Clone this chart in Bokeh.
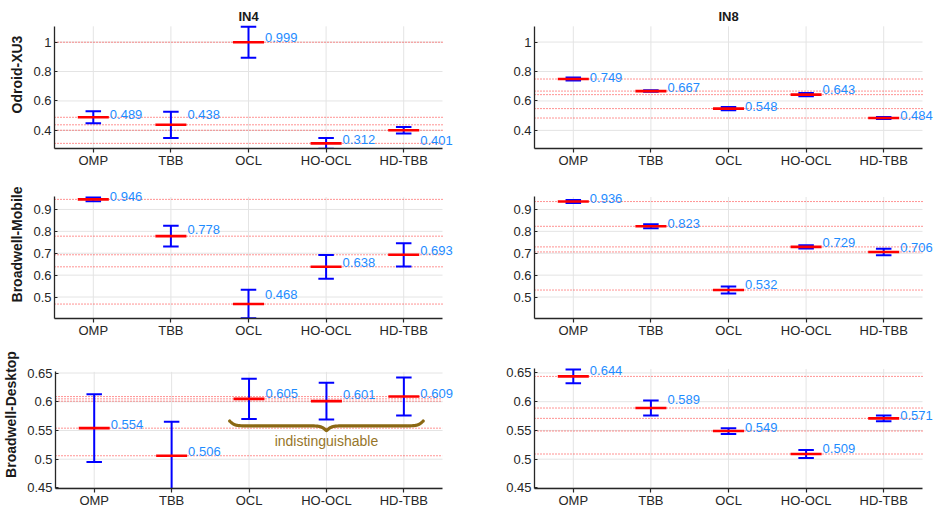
import numpy as np
from bokeh.plotting import figure
from bokeh.models import ColumnDataSource, LabelSet, Label, FixedTicker, Range1d
from bokeh.layouts import column, row
from bokeh.core.properties import value
from bokeh.embed import file_html
from bokeh.resources import INLINE

# ---------------- data ----------------
categories = ["OMP", "TBB", "OCL", "HO-OCL", "HD-TBB"]
column_titles = ["IN4", "IN8"]
row_labels = ["Odroid-XU3", "Broadwell-Mobile", "Broadwell-Desktop"]

odroid_in4_mean = [0.489, 0.438, 0.999, 0.312, 0.401]
odroid_in4_err = [0.041, 0.089, 0.105, 0.036, 0.022]
odroid_in8_mean = [0.749, 0.667, 0.548, 0.643, 0.484]
odroid_in8_err = [0.010, 0.005, 0.011, 0.011, 0.007]

mobile_in4_mean = [0.946, 0.778, 0.468, 0.638, 0.693]
mobile_in4_err = [0.009, 0.047, 0.065, 0.054, 0.053]
mobile_in8_mean = [0.936, 0.823, 0.532, 0.729, 0.706]
mobile_in8_err = [0.007, 0.009, 0.016, 0.007, 0.015]

desktop_in4_mean = [0.554, 0.506, 0.605, 0.601, 0.609]
desktop_in4_err = [0.059, 0.059, 0.035, 0.032, 0.033]
desktop_in8_mean = [0.644, 0.589, 0.549, 0.509, 0.571]
desktop_in8_err = [0.012, 0.013, 0.005, 0.007, 0.005]

odroid_ticks = [0.4, 0.6, 0.8, 1.0]
odroid_tick_labels = ["0.4", "0.6", "0.8", "1"]
mobile_ticks = [0.5, 0.6, 0.7, 0.8, 0.9]
mobile_tick_labels = ["0.5", "0.6", "0.7", "0.8", "0.9"]
desktop_ticks = [0.45, 0.5, 0.55, 0.6, 0.65]
desktop_tick_labels = ["0.45", "0.5", "0.55", "0.6", "0.65"]

odroid_range = (0.277, 1.107)
mobile_range = (0.402, 0.957)
desktop_in4_range = (0.449, 0.652)
desktop_in8_range = (0.449, 0.657)

brace_text = "indistinguishable"
brace_from, brace_to = "OCL", "HD-TBB"
brace_level = 0.558

# ---------------- style ----------------
FONT = "Liberation Sans"
AX = "#262626"
GRID = "#e4e4e4"
LABEL_BLUE = "#1E8CFF"
BRACE = "#8B6914"
PLOT_W = 388  # px width of the axes box

# label vertical nudges (pixels, positive = up)
odroid_in4_dy = [3, 10, 5, 4, -10]
odroid_in8_dy = [2, 4, 2, 5, 3]
mobile_in4_dy = [3, 7, 10, 4, 4]
mobile_in8_dy = [3, 3, 6, 4, 4]
desktop_in4_dy = [4, 4, 5, 7, 3]
desktop_in8_dy = [6, 9, 4, 6, 3]


def panel(means, errs, dys, yr, ticks, tick_labels, width, b_left, extra_right,
          extra_top, plot_h, b_bottom, title=None, ylabel=None):
    y0, y1 = yr
    x0, x1 = 0.5, len(categories) + 0.5
    x_end = x1 + extra_right * (x1 - x0) / PLOT_W
    y_end = y1 + extra_top * (y1 - y0) / plot_h
    height = extra_top + plot_h + b_bottom
    p = figure(width=width, height=height, x_range=Range1d(x0, x_end),
               y_range=Range1d(y0, y_end), output_backend="svg",
               toolbar_location=None,
               min_border_left=b_left, min_border_right=0,
               min_border_top=0, min_border_bottom=b_bottom)
    p.outline_line_color = None
    p.background_fill_color = "white"
    p.border_fill_color = "white"
    p.grid.visible = False

    xpos = list(range(1, len(categories) + 1))
    p.xaxis.ticker = FixedTicker(ticks=xpos)
    p.xaxis.major_label_overrides = {x: c for x, c in zip(xpos, categories)}
    p.yaxis.ticker = FixedTicker(ticks=ticks)
    p.yaxis.major_label_overrides = {t: l for t, l in zip(ticks, tick_labels)}
    p.xaxis.bounds = (x0, x1)
    p.yaxis.bounds = (y0, y1)

    # grid lines limited to the axes box
    p.segment(x0=xpos, y0=[y0] * len(xpos), x1=xpos, y1=[y1] * len(xpos),
              line_color=GRID, line_width=1)
    p.segment(x0=[x0] * len(ticks), y0=ticks, x1=[x1] * len(ticks), y1=ticks,
              line_color=GRID, line_width=1)

    for ax in (p.xaxis, p.yaxis):
        ax.axis_line_color = AX
        ax.axis_line_width = 1.3
        ax.major_tick_line_color = AX
        ax.major_tick_line_width = 1.2
        ax.minor_tick_line_color = None
        ax.major_label_text_font = FONT
        ax.major_label_text_font_size = "13px"
        ax.major_label_text_color = AX
    p.xaxis.major_tick_in = 0
    p.xaxis.major_tick_out = 4
    p.xaxis.major_label_standoff = 0
    p.yaxis.major_tick_in = 3
    p.yaxis.major_tick_out = 0
    p.yaxis.major_label_standoff = 3

    if ylabel:
        p.yaxis.axis_label = ylabel
        p.yaxis.axis_label_text_font = FONT
        p.yaxis.axis_label_text_font_style = "bold"
        p.yaxis.axis_label_text_font_size = "14px"
        p.yaxis.axis_label_text_color = "#1a1a1a"
        p.yaxis.axis_label_standoff = 5

    if title:
        p.add_layout(Label(x=(x0 + x1) / 2, y=y1, y_offset=10, text=title,
                           text_font=FONT, text_font_size="13px",
                           text_font_style="bold", text_color="#1a1a1a",
                           text_align="center", text_baseline="middle"))

    m = np.array(means)
    e = np.array(errs)
    x = np.array(xpos, dtype=float)
    lo, hi = m - e, m + e

    # dotted reference lines at each mean
    p.segment(x0=[x0] * len(means), y0=means, x1=[x1] * len(means), y1=means,
              line_color="red", line_dash="1 2", line_width=1, line_alpha=0.85)

    # error bars
    p.segment(x0=x, y0=lo, x1=x, y1=hi, line_color="blue", line_width=2)
    p.segment(x0=x - 0.1, y0=lo, x1=x + 0.1, y1=lo, line_color="blue", line_width=2)
    p.segment(x0=x - 0.1, y0=hi, x1=x + 0.1, y1=hi, line_color="blue", line_width=2)
    # mean bars
    p.segment(x0=x - 0.2, y0=m, x1=x + 0.2, y1=m, line_color="red", line_width=2.6)

    src = ColumnDataSource(dict(x=x + 0.2, y=m, txt=[f"{v:.3f}" for v in means],
                                dy=dys))
    p.add_layout(LabelSet(x="x", y="y", text="txt", source=src, x_offset=1,
                          y_offset="dy", text_color=LABEL_BLUE,
                          text_font=value(FONT), text_font_size="13px",
                          text_baseline="middle", text_align="left"))
    return p


LW, RW = 470, 468
p11 = panel(odroid_in4_mean, odroid_in4_err, odroid_in4_dy, odroid_range,
            odroid_ticks, odroid_tick_labels, LW, 54, 28, 26, 123, 21,
            title=column_titles[0], ylabel=row_labels[0])
p12 = panel(odroid_in8_mean, odroid_in8_err, odroid_in8_dy, odroid_range,
            odroid_ticks, odroid_tick_labels, RW, 64, 16, 26, 123, 21,
            title=column_titles[1])
p21 = panel(mobile_in4_mean, mobile_in4_err, mobile_in4_dy, mobile_range,
            mobile_ticks, mobile_tick_labels, LW, 54, 28, 27, 124, 19,
            ylabel=row_labels[1])
p22 = panel(mobile_in8_mean, mobile_in8_err, mobile_in8_dy, mobile_range,
            mobile_ticks, mobile_tick_labels, RW, 64, 16, 27, 124, 19)
p31 = panel(desktop_in4_mean, desktop_in4_err, desktop_in4_dy, desktop_in4_range,
            desktop_ticks, desktop_tick_labels, LW, 54, 28, 32, 119, 19,
            ylabel=row_labels[2])
p32 = panel(desktop_in8_mean, desktop_in8_err, desktop_in8_dy, desktop_in8_range,
            desktop_ticks, desktop_tick_labels, RW, 64, 16, 29, 122, 19)

# curly brace grouping OCL .. HD-TBB
bx0 = categories.index(brace_from) + 1 - 0.25
bx1 = categories.index(brace_to) + 1 + 0.25
bxm = (bx0 + bx1) / 2
bxs = np.linspace(bx0, bx1, 800)
k = 30.0
d = np.minimum(bxs - bx0, bx1 - bxs)
half = bxm - bx0
c = 1 / (1 + np.exp(-k * d)) + 1 / (1 + np.exp(-k * (d - half)))
bh = 0.017
bys = (brace_level + bh / 2) - bh * (c - 0.5)
p31.line(bxs, bys, line_color=BRACE, line_width=3.2, line_cap="round")
p31.add_layout(Label(x=bxm, y=brace_level, y_offset=-15, text=brace_text,
                     text_color="#977629", text_font=FONT,
                     text_font_size="14px", text_align="center",
                     text_baseline="middle"))

layout = column(row(p11, p12), row(p21, p22), row(p31, p32))
open("out.html", "w").write(file_html(layout, INLINE))
